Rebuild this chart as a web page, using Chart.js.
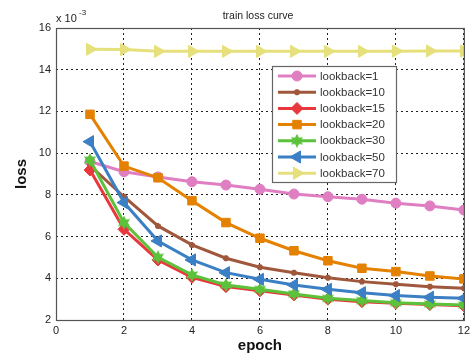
<!DOCTYPE html>
<html>
<head>
<meta charset="utf-8">
<script src="https://cdn.jsdelivr.net/npm/chart.js@4/dist/chart.umd.min.js"></script>
<style>
  html, body { margin: 0; padding: 0; background: #fff; }
  #wrap { width: 474px; height: 359px; }
</style>
</head>
<body>
<div id="wrap"><canvas id="lossChart" width="474" height="359"></canvas></div>
<script>
const epochs = [1, 2, 3, 4, 5, 6, 7, 8, 9, 10, 11, 12];
const xTicks = [0, 2, 4, 6, 8, 10, 12];
const yTicks = [2, 4, 6, 8, 10, 12, 14, 16];

// loss values (x 10^-3)
const lookback1  = [9.6, 9.11, 8.86, 8.63, 8.47, 8.27, 8.04, 7.91, 7.79, 7.6, 7.47, 7.27];
const lookback10 = [9.4, 7.91, 6.51, 5.6, 4.96, 4.53, 4.27, 4.03, 3.84, 3.71, 3.6, 3.52];
const lookback15 = [9.19, 6.35, 4.88, 4.05, 3.6, 3.4, 3.2, 3.0, 2.88, 2.8, 2.74, 2.68];
const lookback20 = [11.86, 9.38, 8.82, 7.72, 6.67, 5.92, 5.32, 4.84, 4.48, 4.32, 4.11, 3.97];
const lookback30 = [9.67, 6.67, 5.01, 4.16, 3.68, 3.47, 3.25, 3.04, 2.93, 2.83, 2.77, 2.72];
const lookback50 = [10.55, 7.63, 5.79, 4.88, 4.27, 3.95, 3.68, 3.47, 3.31, 3.17, 3.09, 3.04];
const lookback70 = [14.98, 14.97, 14.88, 14.88, 14.88, 14.88, 14.88, 14.88, 14.88, 14.89, 14.9, 14.9];

// six-pointed star marker for lookback=30
function hexagram(color, size) {
  const c = document.createElement("canvas");
  c.width = size; c.height = size;
  const g = c.getContext("2d");
  const r = size / 2;
  g.fillStyle = color;
  g.beginPath();
  for (let i = 0; i < 12; i++) {
    const a = -Math.PI / 2 + i * Math.PI / 6;
    const rr = i % 2 === 0 ? r : r * 0.55;
    g.lineTo(r + rr * Math.cos(a), r + rr * Math.sin(a));
  }
  g.closePath();
  g.fill();
  return c;
}

const series = [
  { label: "lookback=1",  data: lookback1,  color: "#e07ec2", style: "circle",   radius: 5, rot: 0 },
  { label: "lookback=10", data: lookback10, color: "#a0583c", style: "star",     radius: 3, rot: 0 },
  { label: "lookback=15", data: lookback15, color: "#e8383d", style: "rectRot",  radius: 6, rot: 0 },
  { label: "lookback=20", data: lookback20, color: "#e58100", style: "rect",     radius: 6, rot: 0 },
  { label: "lookback=30", data: lookback30, color: "#5cc23c", style: hexagram("#5cc23c", 14), radius: 6, rot: 0 },
  { label: "lookback=50", data: lookback50, color: "#3b7fc4", style: "triangle", radius: 7, rot: -90 },
  { label: "lookback=70", data: lookback70, color: "#e6e07c", style: "triangle", radius: 7, rot: 90 },
];

const datasets = series.map((s, i) => ({
  label: s.label,
  data: epochs.map((e, k) => ({ x: e, y: s.data[k] })),
  borderColor: s.color,
  backgroundColor: s.color,
  borderWidth: 3,
  pointStyle: s.style,
  pointRadius: s.radius,
  pointRotation: s.rot,
  pointBorderWidth: s.style === "star" ? 2.5 : 1,
  pointBackgroundColor: s.color,
  pointBorderColor: s.color,
  tension: 0,
  order: series.length - i,
}));

// frame, title, exponent and legend box (MATLAB look)
const extras = {
  id: "extras",
  afterDatasetsDraw(chart) {
    const { ctx, chartArea: a } = chart;
    ctx.save();
    ctx.strokeStyle = "#555";
    ctx.lineWidth = 1.2;
    ctx.setLineDash([]);
    ctx.strokeRect(a.left + 0.5, a.top + 0.5, a.right - a.left, a.bottom - a.top);

    ctx.fillStyle = "#222";
    ctx.font = "10.5px Arial, 'Liberation Sans', sans-serif";
    ctx.textAlign = "center";
    ctx.textBaseline = "middle";
    ctx.fillText("train loss curve", 258, 16);

    ctx.textAlign = "left";
    ctx.font = "11px Arial, 'Liberation Sans', sans-serif";
    ctx.fillText("x 10", 56, 19);
    ctx.font = "8px Arial, 'Liberation Sans', sans-serif";
    ctx.fillText("-3", 79, 13);

    // legend
    const lx = 272, ly = 66, lw = 124, lh = 116;
    ctx.fillStyle = "#fff";
    ctx.fillRect(lx, ly, lw, lh);
    ctx.strokeStyle = "#666";
    ctx.lineWidth = 1.2;
    ctx.strokeRect(lx + 0.5, ly + 0.5, lw, lh);
    ctx.font = "11.5px Arial, 'Liberation Sans', sans-serif";
    chart.data.datasets.forEach((ds, i) => {
      const y = 76 + i * 16.2;
      ctx.strokeStyle = ds.borderColor;
      ctx.lineWidth = 3;
      ctx.beginPath();
      ctx.moveTo(278, y);
      ctx.lineTo(316, y);
      ctx.stroke();
      ctx.fillStyle = ds.pointBackgroundColor;
      ctx.lineWidth = ds.pointBorderWidth;
      Chart.helpers.drawPoint(ctx, {
        pointStyle: ds.pointStyle,
        rotation: ds.pointRotation,
        radius: ds.pointRadius,
        borderWidth: ds.pointBorderWidth,
      }, 297, y);
      ctx.fillStyle = "#333";
      ctx.textAlign = "left";
      ctx.textBaseline = "middle";
      ctx.fillText(ds.label, 320, y + 0.5);
    });
    ctx.restore();
  },
};

new Chart(document.getElementById("lossChart"), {
  type: "line",
  data: { datasets },
  options: {
    responsive: false,
    animation: false,
    layout: { padding: { left: 0, right: 10, top: 28, bottom: 0 } },
    plugins: {
      legend: { display: false },
      title: { display: false },
      tooltip: { enabled: false },
    },
    scales: {
      x: {
        type: "linear",
        min: 0,
        max: 12,
        afterFit: (s) => { s.height = 39; },
        afterBuildTicks: (s) => { s.ticks = xTicks.map((v) => ({ value: v })); },
        ticks: { color: "#222", font: { size: 11, family: "Arial, 'Liberation Sans', sans-serif" }, padding: 4, maxRotation: 0 },
        grid: { color: "#222", lineWidth: 1, drawTicks: false },
        border: { display: false, dash: [2, 3] },
        title: {
          display: true,
          text: "epoch",
          color: "#111",
          font: { size: 15, weight: "bold", family: "Arial, 'Liberation Sans', sans-serif" },
          padding: { top: 0, bottom: 4 },
        },
      },
      y: {
        type: "linear",
        min: 2,
        max: 16,
        afterFit: (s) => { s.width = 56; },
        afterBuildTicks: (s) => { s.ticks = yTicks.map((v) => ({ value: v })); },
        ticks: { color: "#222", font: { size: 11, family: "Arial, 'Liberation Sans', sans-serif" }, padding: 5 },
        grid: { color: "#222", lineWidth: 1, drawTicks: false },
        border: { display: false, dash: [2, 3] },
        title: {
          display: true,
          text: "loss",
          color: "#111",
          font: { size: 15, weight: "bold", family: "Arial, 'Liberation Sans', sans-serif" },
          padding: { top: 13, bottom: 0 },
        },
      },
    },
  },
  plugins: [extras],
});
</script>
</body>
</html>
